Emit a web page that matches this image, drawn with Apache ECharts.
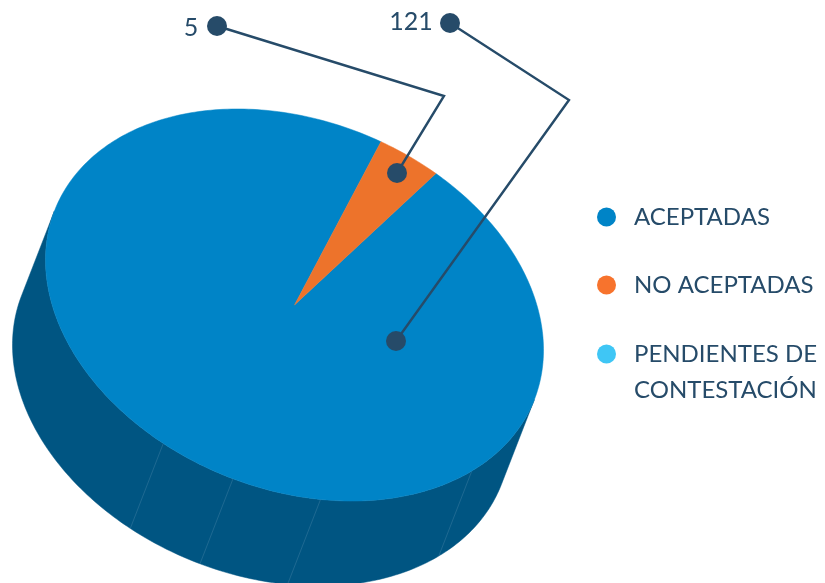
<!DOCTYPE html>
<html><head><meta charset="utf-8">
<style>html,body{margin:0;padding:0;background:#fff}#c{width:825px;height:583px}</style>
<script src="https://cdn.jsdelivr.net/npm/echarts@6/dist/echarts.min.js"></script></head>
<body><div id="c"></div>
<script>
var categories = ['ACEPTADAS', 'NO ACEPTADAS', 'PENDIENTES DE CONTESTACIÓN'];
var values = [121, 5, 0];
var colors = ['#0084c7', '#ed732b', '#3fc6f5'];
var legendColors = ['#0084c7', '#f7732d', '#3fc6f5'];
var rimColor = '#005582';
var inkColor = '#264b69';
var rimFacetAngles = [134.6, 174, 194.3, 211.8];
var startAngle = 34.6;   // clockwise from top, on the untilted disc

// Tilted-disc projection, in screen pixels
var C = [294.5, 305], M = [[249, 0], [45, 190.8]], SHIFT = [-33, 85];
function disc(deg, r) {
  var t = deg * Math.PI / 180, u = Math.sin(t) * r, v = -Math.cos(t) * r;
  return [C[0] + M[0][0] * u + M[0][1] * v, C[1] + M[1][0] * u + M[1][1] * v];
}
var det = M[0][0] * M[1][1] - M[0][1] * M[1][0];
var w = [(M[1][1] * SHIFT[0] - M[0][1] * SHIFT[1]) / det, (-M[1][0] * SHIFT[0] + M[0][0] * SHIFT[1]) / det];
function isFront(deg) {
  var t = deg * Math.PI / 180;
  return Math.sin(t) * w[0] - Math.cos(t) * w[1] >= 0;
}
var total = values.reduce(function (a, b) { return a + b; }, 0);
function sectorRange(i) {
  var a = startAngle;
  for (var k = 0; k < i; k++) a += values[k] / total * 360;
  return [a, a + values[i] / total * 360];
}
function shapeStyle(fill) { return { fill: fill, stroke: fill, lineWidth: 0.5 }; }

function renderSector(idx) {
  return function (params, api) {
    if (!values[idx]) return { type: 'group', children: [] };
    var r = sectorRange(idx), top = [api.coord(C)], side = [], a, p, q;
    var n = Math.ceil(r[1] - r[0]);
    for (var k = 0; k <= n; k++) {
      a = r[0] + (r[1] - r[0]) * k / n;
      p = disc(a, 1);
      top.push(api.coord(p));
      if (isFront(a)) side.push(p);
    }
    var children = [];
    if (side.length > 1) {
      var band = side.map(function (d) { return api.coord(d); });
      for (k = side.length - 1; k >= 0; k--) band.push(api.coord([side[k][0] + SHIFT[0], side[k][1] + SHIFT[1]]));
      children.push({ type: 'polygon', z2: 1, shape: { points: band }, style: shapeStyle(rimColor) });
    }
    if (idx === 0) {
      rimFacetAngles.forEach(function (deg) {
        var d = disc(deg, 1);
        children.push({ type: 'line', z2: 2,
          shape: (function () { var s = api.coord(d), e = api.coord([d[0] + SHIFT[0], d[1] + SHIFT[1]]);
            return { x1: s[0], y1: s[1], x2: e[0], y2: e[1] }; })(),
          style: { stroke: '#3f7fa3', lineWidth: 0.6, opacity: 0.8 } });
      });
    }
    children.push({ type: 'polygon', z2: 3 + idx, shape: { points: top }, style: shapeStyle(colors[idx]) });
    return { type: 'group', children: children };
  };
}

// Callouts: anchor on the disc, elbow, and outer end
var callouts = [
  { idx: 1, label: String(values[1]), pts: [[397, 173], [444, 96], [217, 26]], lx: 191, ly: 28 },
  { idx: 0, label: String(values[0]), pts: [[396, 341], [569, 100], [450, 23]], lx: 411, ly: 22 }
];
function renderCallouts(params, api) {
  var ch = [];
  callouts.forEach(function (c) {
    var pts = c.pts.map(function (p) { return api.coord(p); });
    ch.push({ type: 'polyline', z2: 10, shape: { points: pts }, style: { fill: 'none', stroke: inkColor, lineWidth: 2.4 } });
    ch.push({ type: 'circle', z2: 11, shape: { cx: pts[0][0], cy: pts[0][1], r: 10 }, style: { fill: inkColor } });
    ch.push({ type: 'circle', z2: 11, shape: { cx: pts[2][0], cy: pts[2][1], r: 10 }, style: { fill: inkColor } });
    ch.push({ type: 'text', z2: 11, style: { text: c.label, x: c.lx, y: c.ly, align: 'center', verticalAlign: 'middle',
      fill: inkColor, font: '25px Lato' } });
  });
  return { type: 'group', children: ch };
}

var series = categories.map(function (name, i) {
  return { type: 'custom', name: name, coordinateSystem: 'cartesian2d', silent: true, clip: false,
    itemStyle: { color: legendColors[i] }, data: [[0, 0]], renderItem: renderSector(i), z: 2 };
});
series.push({ type: 'custom', name: 'callouts', coordinateSystem: 'cartesian2d', silent: true, clip: false,
  data: [[0, 0]], renderItem: renderCallouts, z: 5 });

var legendBase = { orient: 'vertical', icon: 'circle', itemWidth: 19, itemHeight: 19, itemGap: 40, left: 592,
  selectedMode: false, textStyle: { color: inkColor, fontFamily: 'Lato', fontSize: 24, padding: [0, 0, 0, 13] } };
var chart = echarts.init(document.getElementById('c'), null, { renderer: 'canvas' });
chart.setOption({
  animation: false,
  backgroundColor: '#fff',
  grid: { left: 0, right: 0, top: 0, bottom: 0 },
  xAxis: { type: 'value', min: 0, max: 825, show: false },
  yAxis: { type: 'value', min: 0, max: 583, inverse: true, show: false },
  legend: [
    Object.assign({}, legendBase, { top: 200, itemGap: 44, data: categories.slice(0, 2) }),
    Object.assign({}, legendBase, { top: 295, data: categories.slice(2),
      formatter: function () { return '\nPENDIENTES DE\nCONTESTACIÓN'; },
      textStyle: Object.assign({}, legendBase.textStyle, { lineHeight: 36 }) })
  ],
  series: series
});
</script></body></html>
